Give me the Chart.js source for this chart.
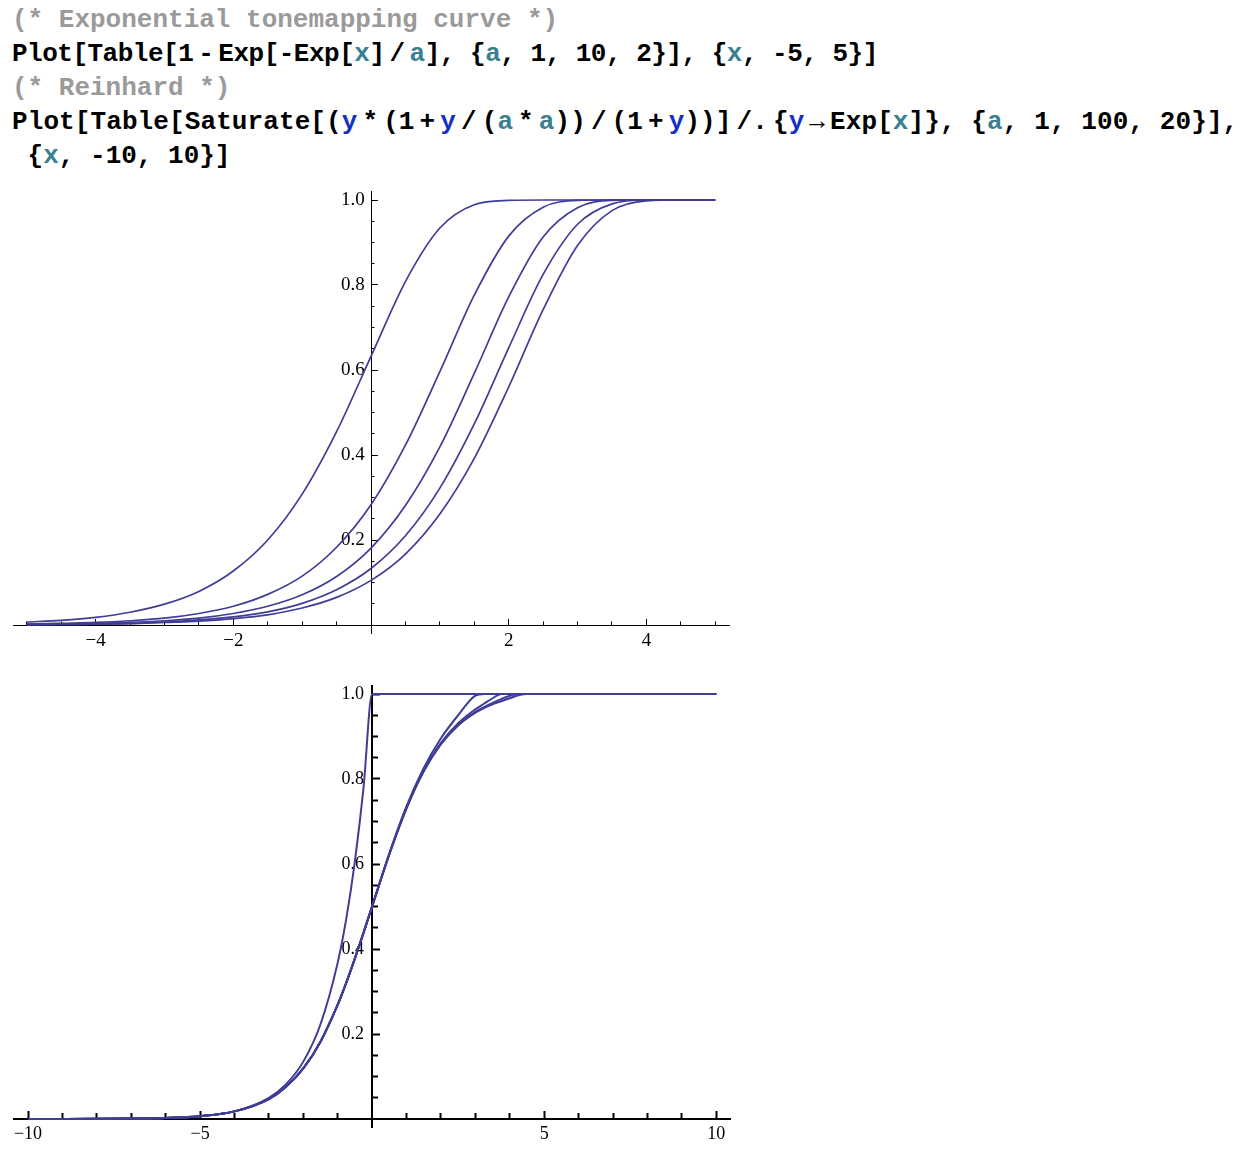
<!DOCTYPE html>
<html lang="en">
<head>
<meta charset="UTF-8">
<title>Tonemapping curves</title>
<style>
    * { box-sizing: border-box; margin: 0; padding: 0; }
    html, body { width: 1242px; height: 1150px; background: #fff; overflow: hidden; }

    #code {
        position        : absolute;
        left            : 12px;
        top             : 3px;
        font-family     : "Liberation Mono", monospace;
        font-weight     : bold;
        font-size       : 26px;
        line-height     : 34px;
        color           : #000;
        white-space     : pre;
    }
    .cm  { color: #9a9a9a; }
    .v   { color: #3b8091; }
    .g   { color: #1530c4; }
    .s   { display: inline-block; width: 5px; }
    #l2  { letter-spacing: -0.5px; }
    #l4  { letter-spacing: 0.1px; }

    canvas    { position: absolute; left: 0; }
    #plotExp  { top: 150px; }
    #plotRein { top: 645px; }
</style>
</head>
<body>
<div id="code"><div class="cm">(* Exponential tonemapping curve *)</div><div id="l2">Plot[Table[1<span class="s"></span>-<span class="s"></span>Exp[-Exp[<span class="v">x</span>]<span class="s"></span>/<span class="s"></span><span class="v">a</span>], {<span class="v">a</span>, 1, 10, 2}], {<span class="v">x</span>, -5, 5}]</div><div class="cm">(* Reinhard *)</div><div id="l4">Plot[Table[Saturate[(<span class="g">y</span><span class="s"></span>*<span class="s"></span>(1<span class="s"></span>+<span class="s"></span><span class="g">y</span><span class="s"></span>/<span class="s"></span>(<span class="v">a</span><span class="s"></span>*<span class="s"></span><span class="v">a</span>))<span class="s"></span>/<span class="s"></span>(1<span class="s"></span>+<span class="s"></span><span class="g">y</span>))]<span class="s"></span>/.<span class="s"></span>{<span class="g">y</span><span class="s"></span>→<span class="s"></span>Exp[<span class="v">x</span>]}, {<span class="v">a</span>, 1, 100, 20}],</div><div> {<span class="v">x</span>, -10, 10}]</div></div>

<canvas id="plotExp" width="770" height="530"></canvas>
<canvas id="plotRein" width="770" height="525"></canvas>

<script src="https://cdn.jsdelivr.net/npm/chart.js@4/dist/chart.umd.min.js"></script>
<script>
    "use strict";

    const curveColor = 'rgb(63, 61, 150)'

    // 1 - Exp[-Exp[x]/a], a = 1, 3, 5, 7, 9
    const expX  = [-5, -4.5, -4, -3.5, -3, -2.5, -2, -1.5, -1, -0.5, 0, 0.5, 1, 1.5, 2, 2.5, 3, 3.5, 4, 4.5, 5]
    const expA1 = [0.007, 0.011, 0.018, 0.030, 0.049, 0.079, 0.127, 0.200, 0.308, 0.455, 0.632, 0.808, 0.934, 0.989, 0.999, 1, 1, 1, 1, 1, 1]
    const expA3 = [0.002, 0.004, 0.006, 0.010, 0.016, 0.027, 0.044, 0.072, 0.115, 0.183, 0.283, 0.423, 0.596, 0.776, 0.915, 0.983, 0.999, 1, 1, 1, 1]
    const expA5 = [0.001, 0.002, 0.004, 0.006, 0.010, 0.016, 0.027, 0.044, 0.071, 0.114, 0.181, 0.281, 0.419, 0.592, 0.772, 0.913, 0.982, 0.999, 1, 1, 1]
    const expA7 = [0.001, 0.002, 0.003, 0.004, 0.007, 0.012, 0.019, 0.031, 0.051, 0.083, 0.133, 0.210, 0.322, 0.473, 0.652, 0.825, 0.943, 0.991, 1, 1, 1]
    const expA9 = [0.001, 0.001, 0.002, 0.003, 0.006, 0.009, 0.015, 0.024, 0.040, 0.065, 0.105, 0.167, 0.261, 0.392, 0.560, 0.742, 0.893, 0.975, 0.998, 1, 1]

    // Reinhard, a = 1, 21, 41, 61, 81
    const reinX   = [-10, -9, -8, -7, -6, -5, -4, -3, -2.5, -2, -1.5, -1, -0.75, -0.5, -0.25, 0, 0.5, 1, 1.5, 2, 2.5, 3, 3.25, 3.5, 3.75, 4, 4.25, 4.5, 5, 6, 7, 8, 9, 10]
    const reinA1  = [0.00005, 0.0001, 0.0003, 0.0009, 0.0025, 0.0067, 0.018, 0.050, 0.082, 0.135, 0.223, 0.368, 0.472, 0.607, 0.779, 1, 1, 1, 1, 1, 1, 1, 1, 1, 1, 1, 1, 1, 1, 1, 1, 1, 1, 1]
    const reinA21 = [0.00005, 0.0001, 0.0003, 0.0009, 0.0025, 0.0067, 0.018, 0.047, 0.076, 0.119, 0.182, 0.269, 0.321, 0.378, 0.439, 0.501, 0.625, 0.736, 0.826, 0.896, 0.950, 0.996, 1, 1, 1, 1, 1, 1, 1, 1, 1, 1, 1, 1]
    const reinA41 = [0.00005, 0.0001, 0.0003, 0.0009, 0.0025, 0.0067, 0.018, 0.047, 0.076, 0.119, 0.182, 0.269, 0.321, 0.378, 0.438, 0.500, 0.623, 0.732, 0.820, 0.885, 0.931, 0.964, 0.977, 0.990, 1, 1, 1, 1, 1, 1, 1, 1, 1, 1]
    const reinA61 = [0.00005, 0.0001, 0.0003, 0.0009, 0.0025, 0.0067, 0.018, 0.047, 0.076, 0.119, 0.182, 0.269, 0.321, 0.378, 0.438, 0.500, 0.623, 0.732, 0.819, 0.883, 0.927, 0.958, 0.969, 0.979, 0.988, 0.996, 1, 1, 1, 1, 1, 1, 1, 1]
    const reinA81 = [0.00005, 0.0001, 0.0003, 0.0009, 0.0025, 0.0067, 0.018, 0.047, 0.076, 0.119, 0.182, 0.269, 0.321, 0.378, 0.438, 0.500, 0.623, 0.731, 0.818, 0.882, 0.926, 0.956, 0.967, 0.976, 0.983, 0.990, 0.997, 1, 1, 1, 1, 1, 1, 1]

    // tick marks
    const expXMajor  = [-4, -2, 2, 4]
    const expXMinor  = [-5, -4.5, -3.5, -3, -2.5, -1.5, -1, -0.5, 0.5, 1, 1.5, 2.5, 3, 3.5, 4.5, 5]
    const reinXMajor = [-10, -5, 5, 10]
    const reinXMinor = [-9, -8, -7, -6, -4, -3, -2, -1, 1, 2, 3, 4, 6, 7, 8, 9]
    const yMajor     = [0.2, 0.4, 0.6, 0.8, 1.0]
    const yMinor     = [0.05, 0.1, 0.15, 0.25, 0.3, 0.35, 0.45, 0.5, 0.55, 0.65, 0.7, 0.75, 0.85, 0.9, 0.95]

    function curves(xs, seriesList, width) {
        return seriesList.map(ys => ({
            data                    : xs.map((x, i) => ({ x: x, y: ys[i] })),
            showLine                : true,
            borderColor             : curveColor,
            borderWidth             : width,
            pointRadius             : 0,
            cubicInterpolationMode  : 'monotone'
        }))
    }

    function setTicks(values) {
        return function (scale) { scale.ticks = values.map(v => ({ value: v })) }
    }

    function xLabel(v) { return v < 0 ? '\u2212' + (-v) : String(v) }

    // axes cross at the origin, ticks point inward; minor ticks live on a second scale.
    // chart.js ignores ticks.padding for y labels on a centred axis, so the gap is a trailing space
    function buildScales(s) {
        const where = { x: { y: 0 }, y: { x: 0 } }
        const yLabel = v => v.toFixed(1) + s.yGap
        function one(axis, values, len, main) {
            return {
                type            : 'linear',
                axis            : axis,
                min             : s[axis + 'Min'],
                max             : s[axis + 'Max'],
                position        : where[axis],
                afterBuildTicks : setTicks(values),
                grid: {
                    drawOnChartArea : false,
                    drawTicks       : true,
                    tickLength      : -len,
                    tickColor       : '#000',
                    tickWidth       : s.lineWidth
                },
                border: { display: main, color: '#000', width: s.lineWidth },
                ticks: {
                    display     : main,
                    autoSkip    : false,
                    maxRotation : 0,
                    color       : '#000',
                    font        : { family: '"Liberation Serif", serif', size: s.fontSize },
                    padding     : s.xPad,
                    callback    : axis === 'x' ? xLabel : yLabel
                }
            }
        }
        return {
            x  : one('x', s.xMajor, s.majorLen, true),
            xm : one('x', s.xMinor, s.minorLen, false),
            y  : one('y', yMajor, s.majorLen, true),
            ym : one('y', yMinor, s.minorLen, false)
        }
    }

    function makePlot(id, datasets, scales, padding) {
        return new Chart(document.getElementById(id), {
            type: 'scatter',
            data: { datasets: datasets },
            options: {
                responsive          : false,
                animation           : false,
                devicePixelRatio    : 1,
                events              : [],
                layout              : { padding: padding },
                plugins             : { legend: { display: false }, tooltip: { enabled: false } },
                scales              : scales
            }
        })
    }

    makePlot('plotExp',
        curves(expX, [expA1, expA3, expA5, expA7, expA9], 1.7),
        buildScales({
            xMin: -5.2, xMax: 5.2, yMin: -0.02, yMax: 1.02,
            xMajor: expXMajor, xMinor: expXMinor,
            majorLen: 7, minorLen: 3.5, lineWidth: 1,
            fontSize: 19, xPad: 12, yGap: ' \u200A'
        }),
        { left: 13, right: 41, top: 41.5, bottom: 46.5 })

    makePlot('plotRein',
        curves(reinX, [reinA1, reinA21, reinA41, reinA61, reinA81], 2),
        buildScales({
            xMin: -10.4, xMax: 10.4, yMin: -0.02, yMax: 1.02,
            xMajor: reinXMajor, xMinor: reinXMinor,
            majorLen: 9, minorLen: 6, lineWidth: 2,
            fontSize: 18, xPad: 13.7, yGap: ' \u2009'
        }),
        { left: 12, right: 40, top: 40.5, bottom: 42.5 })
</script>
</body>
</html>
